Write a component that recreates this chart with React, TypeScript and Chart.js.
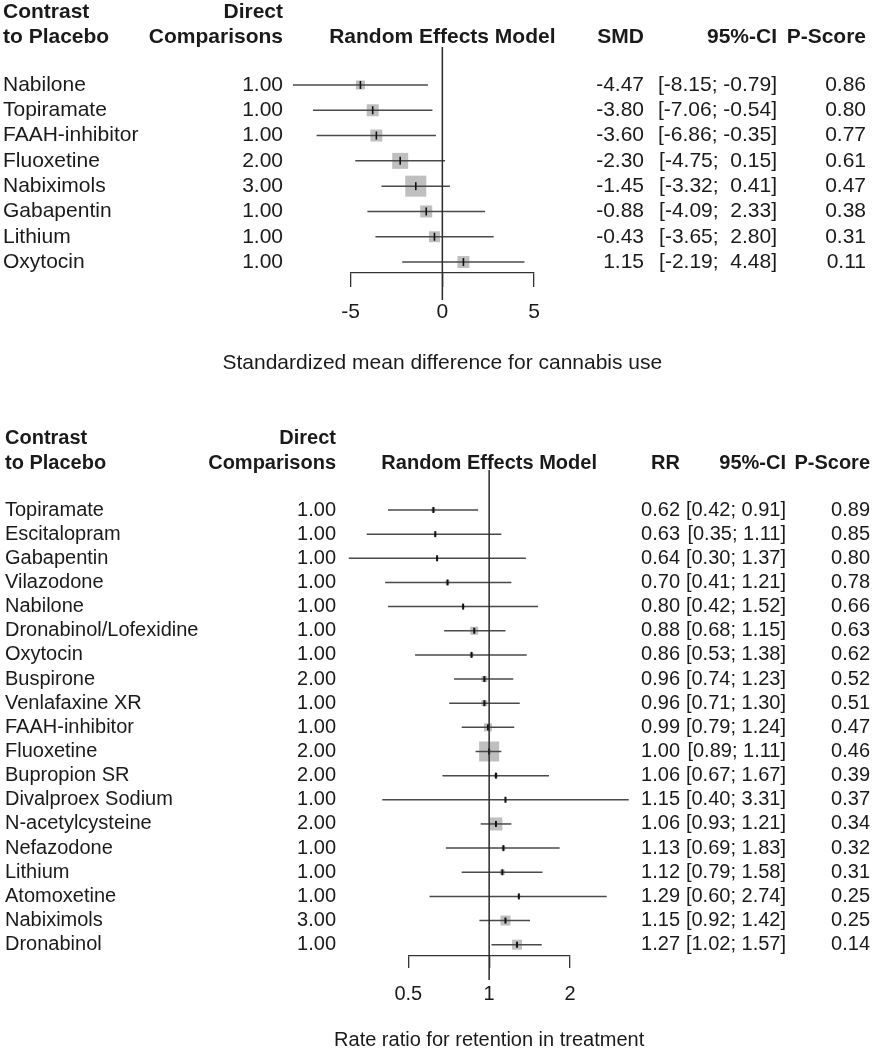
import React, { useEffect, useRef } from 'react';
import { Chart, registerables } from 'chart.js';

Chart.register(...registerables);

const FONT = '"Liberation Sans", Arial, Helvetica, sans-serif';

// ---------- Top panel: SMD for cannabis use ----------
const smdDrugs = ['Nabilone', 'Topiramate', 'FAAH-inhibitor', 'Fluoxetine', 'Nabiximols', 'Gabapentin', 'Lithium', 'Oxytocin'];
const smdDirect = [1, 1, 1, 2, 3, 1, 1, 1];
const smdEst = [-4.47, -3.8, -3.6, -2.3, -1.45, -0.88, -0.43, 1.15];
const smdLower = [-8.15, -7.06, -6.86, -4.75, -3.32, -4.09, -3.65, -2.19];
const smdUpper = [-0.79, -0.54, -0.35, 0.15, 0.41, 2.33, 2.8, 4.48];
const smdPScore = [0.86, 0.8, 0.77, 0.61, 0.47, 0.38, 0.31, 0.11];
const smdWeight = [9, 12, 12, 16, 21, 12, 11, 12];
const smdTicks = [-5, 0, 5];

// ---------- Bottom panel: RR for retention ----------
const rrDrugs = ['Topiramate', 'Escitalopram', 'Gabapentin', 'Vilazodone', 'Nabilone', 'Dronabinol/Lofexidine', 'Oxytocin', 'Buspirone', 'Venlafaxine XR', 'FAAH-inhibitor', 'Fluoxetine', 'Bupropion SR', 'Divalproex Sodium', 'N-acetylcysteine', 'Nefazodone', 'Lithium', 'Atomoxetine', 'Nabiximols', 'Dronabinol'];
const rrDirect = [1, 1, 1, 1, 1, 1, 1, 2, 1, 1, 2, 2, 1, 2, 1, 1, 1, 3, 1];
const rrEst = [0.62, 0.63, 0.64, 0.7, 0.8, 0.88, 0.86, 0.96, 0.96, 0.99, 1.0, 1.06, 1.15, 1.06, 1.13, 1.12, 1.29, 1.15, 1.27];
const rrLower = [0.42, 0.35, 0.3, 0.41, 0.42, 0.68, 0.53, 0.74, 0.71, 0.79, 0.89, 0.67, 0.4, 0.93, 0.69, 0.79, 0.6, 0.92, 1.02];
const rrUpper = [0.91, 1.11, 1.37, 1.21, 1.52, 1.15, 1.38, 1.23, 1.3, 1.24, 1.11, 1.67, 3.31, 1.21, 1.83, 1.58, 2.74, 1.42, 1.57];
const rrPScore = [0.89, 0.85, 0.8, 0.78, 0.66, 0.63, 0.62, 0.52, 0.51, 0.47, 0.46, 0.39, 0.37, 0.34, 0.32, 0.31, 0.25, 0.25, 0.14];
const rrWeight = [4, 3, 2, 4, 3, 8, 4, 6, 6, 8, 20, 4, 2, 13, 4, 5, 3, 10, 10];
const rrTicks = [0.5, 1, 2];

type Spec = {
  drugs: string[]; direct: number[]; est: number[]; lower: number[]; upper: number[];
  pscore: number[]; weight: number[]; ticks: number[];
  ref: number; log: boolean; estHeader: string; axisTitle: string;
  canvasTop: number; height: number; fontSize: number;
  padding: { left: number; right: number; top: number; bottom: number };
  yMin: number; yMax: number; refTop: number; refBottom: number;
  tickLength: number; tickPad: number; titlePadTop: number;
  cols: { name: number; direct: number; est: number; ci: number; p: number };
  headerY: [number, number]; markRadius: number; markWidth: number;
};

const fmt = (v: number) => v.toFixed(2);
function ciStrings(lo: number[], hi: number[]) {
  const l = lo.map(fmt), h = hi.map(fmt);
  const wl = Math.max(...l.map((s) => s.length)), wh = Math.max(...h.map((s) => s.length));
  return l.map((s, i) => `[${s.padStart(wl, ' ')}; ${h[i].padStart(wh, ' ')}]`);
}

const topSpec: Spec = {
  drugs: smdDrugs, direct: smdDirect, est: smdEst, lower: smdLower, upper: smdUpper,
  pscore: smdPScore, weight: smdWeight, ticks: smdTicks,
  ref: 0, log: false, estHeader: 'SMD', axisTitle: 'Standardized mean difference for cannabis use',
  canvasTop: 0, height: 400, fontSize: 21,
  padding: { left: 350.7, right: 344, top: 47, bottom: 24.6 },
  yMin: -1.5, yMax: -1.5 + 226 / 25.3, refTop: -1.5, refBottom: 8.5,
  tickLength: 14, tickPad: 13, titlePadTop: 12,
  cols: { name: 3, direct: 283, est: 644, ci: 777, p: 866 },
  headerY: [12, 37], markRadius: 4, markWidth: 1.6,
};

const botSpec: Spec = {
  drugs: rrDrugs, direct: rrDirect, est: rrEst, lower: rrLower, upper: rrUpper,
  pscore: rrPScore, weight: rrWeight, ticks: rrTicks,
  ref: 1, log: true, estHeader: 'RR', axisTitle: 'Rate ratio for retention in treatment',
  canvasTop: 400, height: 665, fontSize: 20,
  padding: { left: 408.3, right: 308, top: 70, bottom: 13 },
  yMin: -40 / 24.15, yMax: -40 / 24.15 + 486 / 24.15, refTop: -40 / 24.15, refBottom: 470 / 24.15,
  tickLength: 12, tickPad: 14, titlePadTop: 8,
  cols: { name: 5, direct: 336, est: 680, ci: 786, p: 870 },
  headerY: [38, 63], markRadius: 3, markWidth: 2,
};

function tablePlugin(spec: Spec) {
  return {
    id: 'forestTable',
    afterDraw(chart: any) {
      const ctx: CanvasRenderingContext2D = chart.ctx;
      const ys = chart.scales.y;
      const xs = chart.scales.x;
      const area = chart.chartArea;
      const c = spec.cols;
      const bold = `bold ${spec.fontSize}px ${FONT}`;
      const reg = `${spec.fontSize}px ${FONT}`;
      const ci = ciStrings(spec.lower, spec.upper);
      const midX = (area.left + area.right) / 2;
      ctx.save();
      ctx.fillStyle = '#1a1a1a';
      ctx.textBaseline = 'middle';
      const t = (s: string, x: number, y: number, align: CanvasTextAlign, font: string) => {
        ctx.font = font; ctx.textAlign = align; ctx.fillText(s, x, y);
      };
      const [h1, h2] = spec.headerY;
      t('Contrast', c.name, h1, 'left', bold);
      t('to Placebo', c.name, h2, 'left', bold);
      t('Direct', c.direct, h1, 'right', bold);
      t('Comparisons', c.direct, h2, 'right', bold);
      t('Random Effects Model', midX, h2, 'center', bold);
      t(spec.estHeader, c.est, h2, 'right', bold);
      t('95%-CI', c.ci, h2, 'right', bold);
      t('P-Score', c.p, h2, 'right', bold);
      spec.drugs.forEach((d, i) => {
        const y = ys.getPixelForValue(i);
        t(d, c.name, y, 'left', reg);
        t(fmt(spec.direct[i]), c.direct, y, 'right', reg);
        t(fmt(spec.est[i]), c.est, y, 'right', reg);
        t(ci[i], c.ci, y, 'right', reg);
        t(fmt(spec.pscore[i]), c.p, y, 'right', reg);
      });
      // axis title (drawn here so it is not squeezed to the plot width)
      t(spec.axisTitle, midX, xs.bottom - (spec.fontSize * 1.2) / 2, 'center', reg);
      ctx.restore();
    },
  };
}

function buildConfig(spec: Spec): any {
  const n = spec.est.length;
  const datasets: any[] = [
    {
      data: [{ x: spec.ref, y: spec.refTop }, { x: spec.ref, y: spec.refBottom }],
      showLine: true, borderColor: '#2a2a2a', borderWidth: 1.5, pointRadius: 0, clip: false, order: 0,
    },
    {
      data: spec.est.map((v, i) => ({ x: v, y: i })),
      pointStyle: 'line', rotation: 90, pointRadius: spec.markRadius,
      borderColor: '#111', pointBorderColor: '#111', borderWidth: spec.markWidth, pointBorderWidth: spec.markWidth,
      clip: false, order: 1,
    },
  ];
  for (let i = 0; i < n; i++) {
    datasets.push({
      data: [{ x: spec.lower[i], y: i }, { x: spec.upper[i], y: i }],
      showLine: true, borderColor: '#4a4a4a', borderWidth: 1.5, pointRadius: 0, clip: false, order: 2,
    });
  }
  datasets.push({
    data: spec.est.map((v, i) => ({ x: v, y: i })),
    pointStyle: 'rect', pointRadius: spec.weight.map((w) => w / Math.SQRT2),
    backgroundColor: '#bfbfbf', pointBackgroundColor: '#bfbfbf', borderWidth: 0, pointBorderWidth: 0,
    clip: false, order: 3,
  });
  return {
    type: 'scatter',
    data: { datasets },
    options: {
      responsive: false,
      maintainAspectRatio: false,
      animation: false,
      events: [],
      layout: { padding: spec.padding },
      plugins: { legend: { display: false }, tooltip: { enabled: false } },
      scales: {
        x: {
          type: spec.log ? 'logarithmic' : 'linear',
          min: spec.ticks[0],
          max: spec.ticks[spec.ticks.length - 1],
          position: 'bottom',
          afterBuildTicks: (s: any) => { s.ticks = spec.ticks.map((v) => ({ value: v })); },
          grid: { display: true, drawOnChartArea: false, drawTicks: true, tickLength: spec.tickLength, color: '#333', lineWidth: 1.3 },
          border: { display: true, color: '#333', width: 1.3 },
          ticks: {
            color: '#1a1a1a', padding: spec.tickPad, autoSkip: false, maxRotation: 0,
            font: { family: FONT, size: spec.fontSize, lineHeight: 1.2 },
            callback: (v: any) => String(v),
          },
          title: {
            display: true, text: spec.axisTitle, color: 'rgba(0,0,0,0)',
            font: { family: FONT, size: spec.fontSize, lineHeight: 1.2 },
            padding: { top: spec.titlePadTop, bottom: 0 },
          },
        },
        y: { type: 'linear', display: false, reverse: true, min: spec.yMin, max: spec.yMax },
      },
    },
    plugins: [tablePlugin(spec)],
  };
}

function ForestPanel({ spec }: { spec: Spec }) {
  const ref = useRef<HTMLCanvasElement>(null);
  useEffect(() => {
    const chart = new Chart(ref.current as HTMLCanvasElement, buildConfig(spec));
    return () => chart.destroy();
  }, [spec]);
  return (
    <canvas
      ref={ref}
      width={878}
      height={spec.height}
      style={{ position: 'absolute', left: 0, top: spec.canvasTop, width: 878, height: spec.height }}
    />
  );
}

export default function App() {
  return (
    <div style={{ position: 'absolute', left: 0, top: 0, width: 878, height: 1050, overflow: 'hidden', background: '#fff' }}>
      <ForestPanel spec={topSpec} />
      <ForestPanel spec={botSpec} />
    </div>
  );
}
